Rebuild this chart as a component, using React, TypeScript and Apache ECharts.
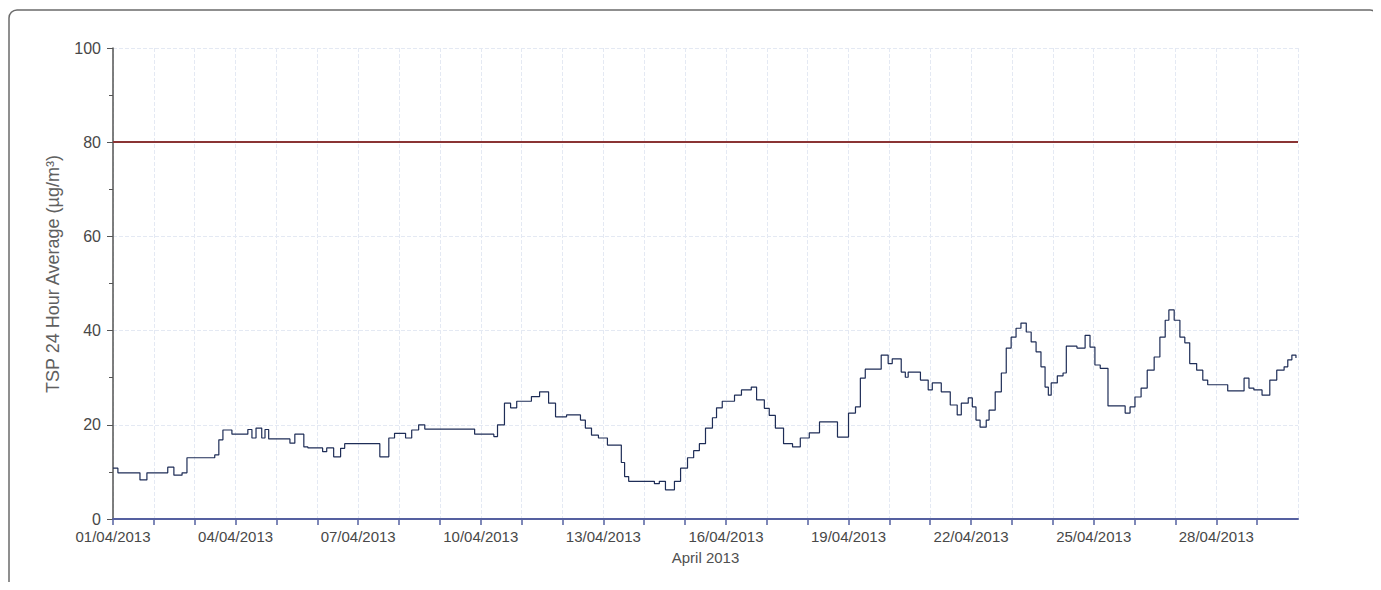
import React, { useEffect, useRef } from "react";
import * as echarts from "echarts";

// Fractional days since 01/04/2013 00:00 at which each step of the 24-hour average starts
const stepDays = [
  0, 0.12, 0.66, 0.83, 1.34, 1.49, 1.69, 1.81, 2.49, 2.59, 2.69, 2.91, 3.3, 3.4, 3.5, 3.64, 3.72, 3.81,
  4.33, 4.45, 4.67, 4.77, 5.13, 5.23, 5.4, 5.57, 5.67, 6.53, 6.75, 6.89, 7.16, 7.31, 7.48, 7.63, 8.85,
  9.32, 9.41, 9.58, 9.73, 9.88, 10.24, 10.44, 10.66, 10.83, 11.1, 11.44, 11.56, 11.71, 11.88, 12.1,
  12.44, 12.52, 12.62, 13.25, 13.37, 13.52, 13.74, 13.89, 14.06, 14.21, 14.35, 14.5, 14.67, 14.77,
  14.91, 15.21, 15.38, 15.62, 15.75, 15.94, 16.06, 16.21, 16.41, 16.63, 16.82, 17.04, 17.29, 17.73,
  18.0, 18.17, 18.29, 18.41, 18.8, 18.97, 19.07, 19.29, 19.39, 19.46, 19.76, 19.95, 20.05, 20.27,
  20.49, 20.66, 20.76, 20.93, 21.03, 21.12, 21.22, 21.37, 21.44, 21.59, 21.74, 21.86, 21.98, 22.1,
  22.22, 22.35, 22.47, 22.59, 22.71, 22.81, 22.89, 22.96, 23.11, 23.25, 23.33, 23.59, 23.79, 23.91,
  24.03, 24.16, 24.35, 24.77, 24.89, 25.01, 25.16, 25.31, 25.48, 25.62, 25.75, 25.84, 25.97, 26.11,
  26.23, 26.35, 26.52, 26.67, 26.79, 27.28, 27.68, 27.8, 27.92, 28.12, 28.31, 28.48, 28.66, 28.75,
  28.85, 28.95,
];

// TSP 24-hour average values (µg/m³)
const tspValues = [
  10.8, 9.8, 8.3, 9.8, 11, 9.3, 9.8, 13, 13.6, 16.8, 18.9, 18, 19, 17.2, 19.3, 17.2, 19, 17,
  16.1, 18, 15.3, 15.1, 14.3, 15.1, 13.2, 15, 16, 13.2, 17.2, 18.2, 17.2, 18.9, 20, 19.1, 18,
  17.5, 20, 24.6, 23.6, 25, 26, 27, 24.6, 21.7, 22.1, 21, 19.3, 17.8, 17.2, 15.7,
  12, 9, 8, 7.5, 8, 6.2, 8, 10.8, 13, 14.5, 16, 19.3, 21.5, 23.6,
  25, 26.3, 27.4, 28, 25.3, 23.5, 22, 19.3, 16, 15.3, 17.2, 18.3, 20.6, 17.4,
  22.5, 23.8, 29.9, 31.8, 34.8, 33, 34, 31.2, 30.1, 31.2, 29.5, 27.4, 28.9, 27,
  24.2, 22.1, 24.6, 25.7, 23.8, 21, 19.5, 21, 23.1, 27, 31, 36.3, 38.6, 40.5,
  41.6, 39.7, 37.6, 35.5, 32.3, 28, 26.3, 28.9, 30.4, 31, 36.7, 36.3, 39, 36.5,
  32.7, 32, 24, 22.5, 23.8, 25.9, 27.8, 31.6, 34.4, 38.6, 42.2, 44.4, 42.2, 38.6,
  37.4, 33, 31.6, 29.5, 28.5, 27.2, 29.9, 27.8, 27.4, 26.3, 29.5, 31.6, 32.3, 33.8,
  34.8, 34.2,
];

const limitValue = 80;
const yTicks = [0, 20, 40, 60, 80, 100];
const yAxisTitle = "TSP 24 Hour Average (µg/m³)";
const xAxisTitle = "April 2013";

const DAY = 86400000;
const START = Date.UTC(2013, 3, 1);
const END = Date.UTC(2013, 3, 30);

function fmtDate(ms: number): string {
  const d = new Date(ms);
  const dd = String(d.getUTCDate()).padStart(2, "0");
  const mm = String(d.getUTCMonth() + 1).padStart(2, "0");
  return `${dd}/${mm}/${d.getUTCFullYear()}`;
}

export default function App() {
  const ref = useRef<HTMLDivElement>(null);

  useEffect(() => {
    if (!ref.current) return;
    const chart = echarts.init(ref.current, undefined, { renderer: "svg" });
    const seriesData = stepDays.map((d, i) => [START + d * DAY, tspValues[i]]);
    const font = "Liberation Sans, Arial, sans-serif";

    chart.setOption({
      animation: false,
      backgroundColor: "#ffffff",
      graphic: [
        {
          type: "rect",
          shape: { x: 1, y: 2, width: 1369, height: 600, r: 8 },
          style: { fill: "none", stroke: "#6b6b6b", lineWidth: 1.5 },
          silent: true,
          z: -10,
        },
        {
          type: "text",
          x: 45,
          y: 266,
          rotation: Math.PI / 2,
          silent: true,
          style: {
            text: yAxisTitle,
            fontFamily: font,
            fontSize: 18,
            fill: "#606060",
            align: "center",
            verticalAlign: "middle",
          },
        },
      ],
      grid: { left: 105, top: 40, right: 75, bottom: 63 },
      xAxis: {
        type: "value",
        min: START,
        max: END,
        interval: DAY,
        name: xAxisTitle,
        nameLocation: "middle",
        nameGap: 31,
        nameTextStyle: { fontFamily: font, fontSize: 15, color: "#505050" },
        axisLine: { show: true, onZero: false, lineStyle: { color: "#5560a0", width: 2 } },
        axisTick: { show: true, length: 6, lineStyle: { color: "#5560a0", width: 1.5 } },
        axisLabel: {
          fontFamily: font,
          fontSize: 15,
          color: "#484848",
          margin: 10,
          showMaxLabel: false,
          formatter: (v: number) => {
            const idx = Math.round((v - START) / DAY);
            return idx % 3 === 0 ? fmtDate(v) : "";
          },
        },
        splitLine: { show: true, lineStyle: { color: "#e4e9f3", type: "dashed", width: 1 } },
      },
      yAxis: {
        type: "value",
        min: yTicks[0],
        max: yTicks[yTicks.length - 1],
        interval: 20,
        axisLine: { show: true, lineStyle: { color: "#555", width: 1.5 } },
        axisTick: { show: true, length: 6, lineStyle: { color: "#555" } },
        minorTick: { show: true, splitNumber: 2, length: 4, lineStyle: { color: "#555" } },
        axisLabel: { fontFamily: font, fontSize: 16, color: "#484848", margin: 12 },
        splitLine: { show: true, lineStyle: { color: "#e4e9f3", type: "dashed", width: 1 } },
      },
      series: [
        {
          type: "line",
          step: "end",
          data: seriesData,
          showSymbol: false,
          symbol: "none",
          lineStyle: { color: "#1e2d57", width: 1.2 },
          markLine: {
            silent: true,
            symbol: "none",
            label: { show: false },
            lineStyle: { color: "#8a3434", width: 2, type: "solid" },
            data: [{ yAxis: limitValue }],
          },
        },
      ],
    });

    return () => chart.dispose();
  }, []);

  return <div ref={ref} style={{ width: 1365, height: 574 }} />;
}
